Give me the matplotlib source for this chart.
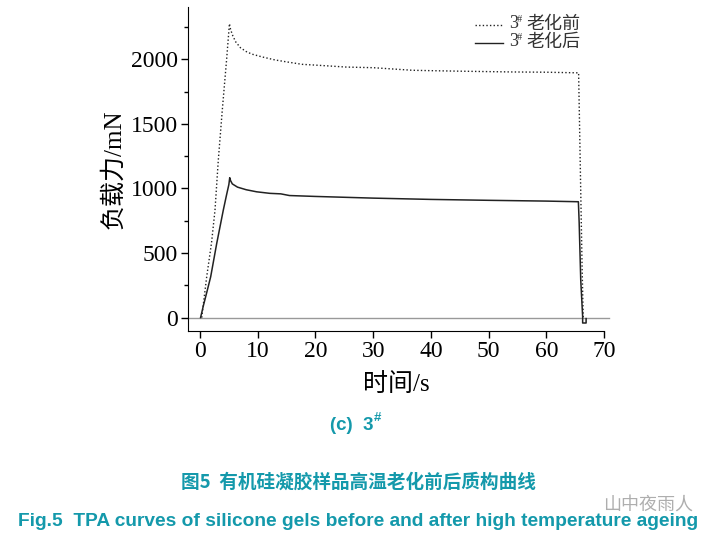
import numpy as np
import matplotlib
matplotlib.use('Agg')
import matplotlib.pyplot as plt
from matplotlib.lines import Line2D
from matplotlib.ticker import MultipleLocator

plt.rcParams['font.family'] = ['Liberation Serif', 'Noto Sans CJK SC']
plt.rcParams['mathtext.fontset'] = 'stix'

# 3# before ageing (dotted)
t_before = [0.3, 1.16, 2.0, 2.6, 3.17, 3.86, 4.6, 5.1, 5.3, 5.7, 6.2, 7.0,
            8.0, 9.0, 10.8, 13, 15, 17.7, 20, 25.3, 30, 36.8, 40, 45, 54, 60, 65.6,
            65.8, 66.0, 66.2, 66.4]
f_before = [0, 316, 580, 833, 1219, 1606, 1993, 2276, 2230, 2180, 2134, 2090,
            2060, 2040, 2018, 1995, 1980, 1961, 1955, 1940, 1935, 1915, 1912, 1908, 1902, 1900, 1895,
            1400, 900, 400, 0]

# 3# after ageing (solid)
t_after = [0.1, 0.6, 1.2, 1.85, 2.9, 4.04, 4.6, 5.0, 5.15, 5.3, 5.6, 6.5,
           8, 9.8, 12.1, 14, 15.5, 20, 30, 40, 50, 60, 65.56, 65.7, 65.97, 66.3,
           66.3, 66.9, 66.9]
f_after = [0, 95, 200, 316, 575, 833, 950, 1030, 1083, 1060, 1035, 1010,
           990, 974, 962, 958, 945, 938, 925, 915, 908, 902, 897, 732, 291, 7,
           -42, -42, -8]

W, H = 710, 543
fig = plt.figure(figsize=(W / 100, H / 100), dpi=100)
ax = fig.add_axes([188 / W, 1 - 331 / H, (604 - 188) / W, (331 - 7) / H])

ax.plot([-2.1, 70.9], [0, 0], color='#999999', lw=1.0, clip_on=False, zorder=1)
ax.plot(t_before, f_before, color='#222222', lw=1.0, linestyle=(0, (1, 1.6)))
ax.plot(t_after, f_after, color='#222222', lw=1.1)

ax.set_xlim(-2.08, 70)
ax.set_ylim(-104, 2405)
ax.xaxis.set_major_locator(MultipleLocator(10))
ax.yaxis.set_major_locator(MultipleLocator(500))
ax.yaxis.set_minor_locator(MultipleLocator(250))
ax.spines['top'].set_visible(False)
ax.spines['right'].set_visible(False)
ax.tick_params(axis='both', which='major', direction='out', length=5, width=1,
               labelsize=17, pad=2)
ax.tick_params(axis='y', which='minor', direction='out', length=3, width=1)

ax.set_xlabel('时间/s', fontsize=18, labelpad=8.5, fontweight='light')
ax.set_ylabel('负载力/mN', fontsize=18, labelpad=4, fontweight='light')

# legend drawn by hand so the superscript # sits next to CJK text
legend_labels = ['老化前', '老化后']
legend_styles = [(0, (1, 1.6)), '-']
for i, (lab, ls) in enumerate(zip(legend_labels, legend_styles)):
    yc = 23.5 + i * 18.5
    fig.add_artist(Line2D([475 / W, 503 / W], [1 - (yc + 1) / H] * 2, color='#222222',
                          lw=1.0, linestyle=ls))
    fig.text(509 / W, 1 - yc / H, '3', ha='left', va='center', fontsize=13,
             color='#333333')
    fig.text(516.5 / W, 1 - (yc - 4) / H, '#', ha='left', va='center', fontsize=7.5,
             color='#333333')
    fig.text(526 / W, 1 - yc / H, lab, ha='left', va='center', fontsize=13,
             color='#333333', family=['Noto Sans CJK SC'], fontweight='light')

teal = '#1499ab'
fig.text(374 / W, 1 - 425 / H, '(c)  3', ha='right', va='center', color=teal,
         fontsize=13.5, fontweight='bold', family=['Liberation Sans'])
fig.text(374 / W, 1 - 418 / H, '#', ha='left', va='center', color=teal,
         fontsize=9.5, fontweight='bold', family=['Liberation Sans'])
fig.text(358 / W, 1 - 482 / H, '图5  有机硅凝胶样品高温老化前后质构曲线', ha='center',
         va='center', color=teal, fontsize=13.4, fontweight='bold',
         family=['Noto Sans CJK SC', 'Liberation Sans'])
fig.text(358 / W, 1 - 522 / H,
         'Fig.5  TPA curves of silicone gels before and after high temperature ageing',
         ha='center', va='center', color=teal, fontsize=13.8, fontweight='bold',
         family=['Liberation Sans'])
fig.text(648 / W, 1 - 505 / H, '山中夜雨人', ha='center', va='center', color='#9a9a9a',
         fontsize=13, family=['Noto Sans CJK SC'], alpha=0.8)

fig.savefig('out.png', dpi=100)
